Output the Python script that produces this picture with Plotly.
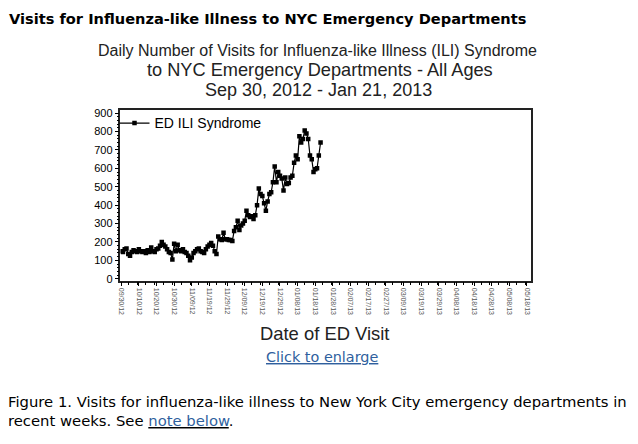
import plotly.graph_objects as go
import pandas as pd

# daily ED ILI visits, Sep 30 2012 .. Jan 21 2013
start_date = "2012-09-30"
ili_visits = [
    150, 145, 160, 165, 135, 125, 145, 155, 150, 145,
    160, 150, 145, 150, 140, 155, 145, 170, 150, 145,
    160, 165, 180, 200, 185, 175, 160, 145, 140, 105,
    190, 150, 185, 155, 150, 160, 145, 140, 125, 100,
    115, 140, 150, 160, 165, 150, 145, 140, 160, 175,
    185, 195, 180, 150, 135, 230, 215, 210, 250, 215,
    215, 210, 210, 205, 260, 280, 315, 265, 290, 300,
    315, 370, 345, 335, 340, 325, 345, 400, 490, 460,
    450, 410, 370, 420, 460, 470, 525, 610, 525, 580,
    560, 545, 480, 550, 515, 520, 550, 560, 630, 670,
    650, 775, 740, 760, 805, 790, 760, 670, 650, 580,
    595, 600, 670, 740,
]
dates = pd.date_range(start_date, periods=len(ili_visits), freq="D")

series_name = "ED ILI Syndrome"
DAY_MS = 86400000

# the page body has an 8px margin, so the figure sits at (8, 8)
OFF = 8
W, H = 638 - OFF, 444 - OFF

link_blue = "#2f5f9e"
page_font = "DejaVu Sans"
chart_font = "Liberation Sans"

fig = go.Figure(go.Scatter(
    x=dates, y=ili_visits, name=series_name,
    mode="lines+markers",
    line=dict(color="black", width=1.2),
    marker=dict(symbol="square", size=4.5, color="black"),
))


def px_x(p):
    # page pixel -> paper fraction
    return (p - OFF) / W


def px_y(p):
    return 1 - (p - OFF) / H


fig.update_layout(
    width=W, height=H,
    margin=dict(l=0, r=0, t=0, b=0),
    paper_bgcolor="white", plot_bgcolor="white",
    font=dict(family=chart_font, color="black"),
    showlegend=True,
    legend=dict(x=px_x(112), y=px_y(106), xanchor="left", yanchor="top",
                bgcolor="rgba(0,0,0,0)", font=dict(size=14, family=chart_font),
                itemwidth=30, tracegroupgap=0),
    xaxis=dict(
        domain=[px_x(118), px_x(530)],
        range=["2012-09-29 14:00", "2013-05-20"],
        tick0=start_date, dtick=10 * DAY_MS, tickformat="%m/%d/%y",
        tickangle=90, tickfont=dict(size=7, color="#555"),
        ticks="outside", ticklen=4, tickcolor="black",
        minor=dict(dtick=5 * DAY_MS, ticks="outside", ticklen=3, tickcolor="black"),
        showline=True, linecolor="#222", linewidth=1.5, mirror=True,
        showgrid=False, zeroline=False,
    ),
    yaxis=dict(
        domain=[px_y(282), px_y(109)],
        range=[-10, 915],
        dtick=100, tickfont=dict(size=11),
        ticks="outside", ticklen=4, tickcolor="black",
        minor=dict(dtick=20, ticks="outside", ticklen=2, tickcolor="black"),
        showline=True, linecolor="#222", linewidth=1.5, mirror=True,
        showgrid=False, zeroline=False,
    ),
)

notes = [
    # page heading
    dict(text="<b>Visits for Influenza-like Illness to NYC Emergency Departments</b>",
         x=4, y=16, xanchor="left", size=14.6, family=page_font, color="black"),
    # chart title
    dict(text="Daily Number of Visits for Influenza-like Illness (ILI) Syndrome",
         x=316, y=48, xanchor="center", size=16, family=chart_font, color="#222"),
    dict(text="to NYC Emergency Departments - All Ages",
         x=318, y=68, xanchor="center", size=18.2, family=chart_font, color="#222"),
    dict(text="Sep 30, 2012 - Jan 21, 2013",
         x=317, y=88, xanchor="center", size=18, family=chart_font, color="#222"),
    # axis title
    dict(text="Date of ED Visit",
         x=323, y=336, xanchor="center", size=18.4, family=chart_font, color="#222"),
    # link under chart
    dict(text="<u>Click to enlarge</u>",
         x=320, y=360, xanchor="center", size=14.4, family=page_font, color=link_blue),
    # caption
    dict(text="Figure 1. Visits for influenza-like illness to New York City emergency departments in",
         x=3, y=405, xanchor="left", size=14.8, family=page_font, color="black"),
    dict(text="recent weeks. See <u><span style='color:" + link_blue + "'>note below</span></u>.",
         x=3, y=424, xanchor="left", size=14.8, family=page_font, color="black"),
]
for n in notes:
    fig.add_annotation(
        text=n["text"], xref="paper", yref="paper",
        x=px_x(n["x"]), y=px_y(n["y"]), xanchor=n["xanchor"], yanchor="middle",
        showarrow=False, font=dict(size=n["size"], family=n["family"], color=n["color"]),
    )

fig.write_html("out.html")
